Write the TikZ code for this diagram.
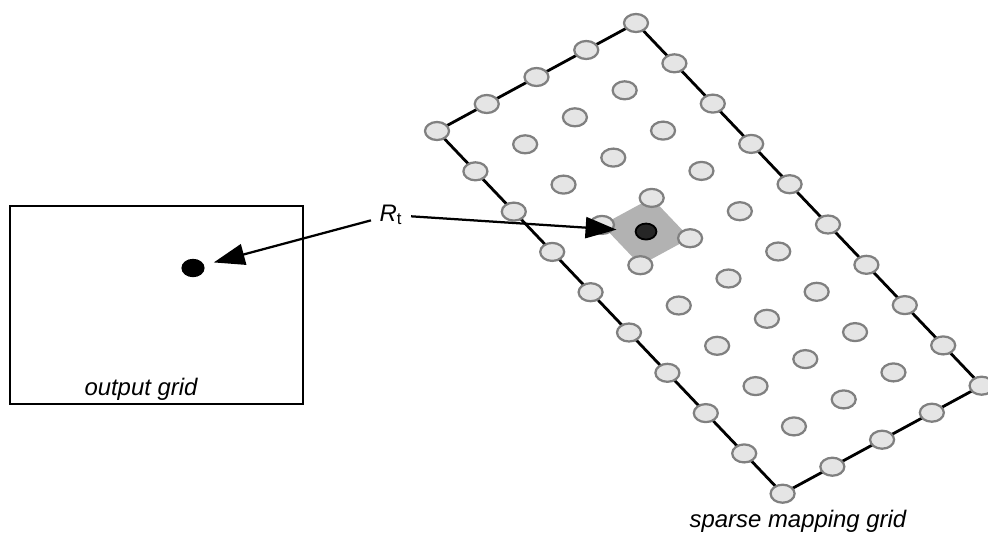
\documentclass[tikz,border=0pt]{standalone}
\usepackage{fontspec}
\setmainfont{Liberation Sans}
\usetikzlibrary{arrows.meta,shapes.geometric,calc}

\begin{document}
\begin{tikzpicture}[
  x=0.025cm,y=-0.025cm,
  font=\fontsize{17}{20}\selectfont,
  >={Triangle[length=22pt,width=15pt]},
  frame/.style={draw,line width=1.7pt},
  edge/.style={draw,line width=2pt},
  gridpt/.style={ellipse,draw=gray,line width=1.6pt,fill=gray!20,minimum width=0.6cm,minimum height=0.45cm,inner sep=0pt},
  hit/.style={ellipse,draw=black,line width=1.3pt,fill=black!85,minimum width=0.52cm,minimum height=0.4cm,inner sep=0pt},
  spot/.style={ellipse,fill=black,minimum width=0.58cm,minimum height=0.46cm,inner sep=0pt},
  caption/.style={font=\fontsize{17}{20}\selectfont\itshape,anchor=base},
  ray/.style={->,line width=1.6pt}
]
\useasboundingbox (0,0) rectangle (988,535);

% output grid
\draw[frame] (10,206) rectangle (303,404);
\node[spot] (odot) at (193,268) {};
\node[caption] (outlbl) at (141,395) {output grid};

% sparse mapping grid (5 x 10 points)
\foreach \i in {0,...,4}
  \foreach \j in {0,...,9}
    \coordinate (p\i-\j) at ({437+49.75*\i+38.4*\j},{131-27*\i+40.3*\j});
\path[edge] (p0-0) -- (p4-0) -- (p4-9) -- (p0-9) -- cycle;
\fill[gray!60] (p1-3) -- (p2-3) -- (p2-4) -- (p1-4) -- cycle;
\foreach \i in {0,...,4}
  \foreach \j in {0,...,9}
    \node[gridpt] (g\i-\j) at (p\i-\j) {};
\node[hit] (tgt) at ($(p1-3)!0.5!(p2-4)$) {};
\node[caption] (gridlbl) at (798,527) {sparse mapping grid};

% transform
\node[inner sep=6pt] (rt) at (391,215) {\textit{R}\textsubscript{t}};
\draw[ray,shorten >=7pt] (rt) -- (odot);
\draw[ray,shorten >=13pt] (rt) -- (tgt);
\end{tikzpicture}
\end{document}
